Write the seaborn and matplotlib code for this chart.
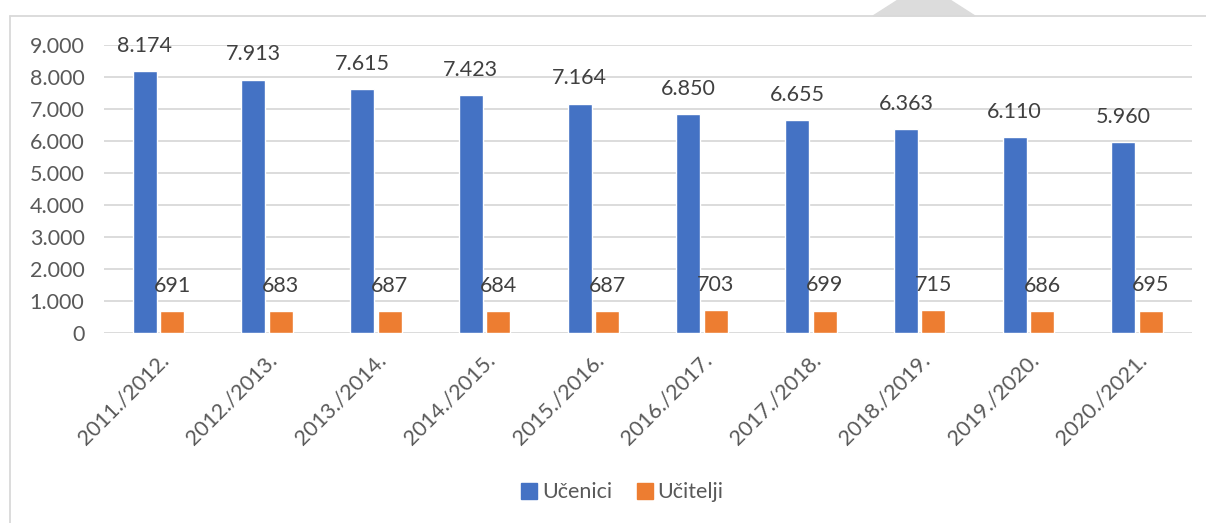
import pandas as pd
import seaborn as sns
import matplotlib.pyplot as plt
from matplotlib.patches import Polygon
from matplotlib.lines import Line2D
from matplotlib.ticker import FuncFormatter

# School years and counts
years = ['2011./2012.', '2012./2013.', '2013./2014.', '2014./2015.', '2015./2016.',
         '2016./2017.', '2017./2018.', '2018./2019.', '2019./2020.', '2020./2021.']
ucenici = [8174, 7913, 7615, 7423, 7164, 6850, 6655, 6363, 6110, 5960]
ucitelji = [691, 683, 687, 684, 687, 703, 699, 715, 686, 695]
series = ['Učenici', 'Učitelji']
colors = ['#4472C4', '#ED7D31']

df = pd.DataFrame({'year': years * 2,
                   'value': ucenici + ucitelji,
                   'series': [series[0]] * len(years) + [series[1]] * len(years)})

sns.set_theme(style='white')
plt.rcParams['font.family'] = ['Lato', 'DejaVu Sans']
txt = '#595959'
fs = 15.5


def dots(v, pos=None):
    return f'{int(v):,}'.replace(',', '.')


fig = plt.figure(figsize=(12.06, 5.23), dpi=100)
ax = fig.add_axes([0.0862, 0.3633, 0.9018, 0.5507])

sns.barplot(data=df, x='year', y='value', hue='series', palette=colors,
            width=0.505, gap=0.13, saturation=1, ax=ax, legend=False)

ax.set_ylim(0, 9000)
ax.set_yticks(range(0, 9001, 1000))
ax.yaxis.set_major_formatter(FuncFormatter(dots))
ax.grid(axis='y', color='#d9d9d9', lw=1.3)
ax.set_axisbelow(True)
for s in ax.spines.values():
    s.set_visible(False)
ax.set_xlabel('')
ax.set_ylabel('')
ax.tick_params(axis='both', length=0, labelsize=fs, colors=txt)
ax.tick_params(axis='x', pad=12)
ax.tick_params(axis='y', pad=14)
for lab in ax.get_xticklabels():
    lab.set_rotation(45)
    lab.set_ha('right')
    lab.set_rotation_mode('anchor')

for cont in ax.containers:
    for bar in cont:
        h = bar.get_height()
        ax.annotate(dots(h), (bar.get_x() + bar.get_width() / 2, h),
                    xytext=(0, 11), textcoords='offset points',
                    ha='center', va='bottom', fontsize=fs, color='#404040')

handles = [Line2D([], [], marker='s', ls='', color=c, markersize=11) for c in colors]
fig.legend(handles, series, loc='center', bbox_to_anchor=(0.515, 0.059), ncol=2,
           frameon=False, fontsize=fs, labelcolor=txt, handletextpad=0.1,
           columnspacing=1.0, handlelength=1.0)

# outer frame (top and left edges visible) and the grey tab at the top
fig.add_artist(Line2D([10 / 1206, 10 / 1206], [0, 1 - 16 / 523], color='#d9d9d9', lw=1.3))
fig.add_artist(Line2D([10 / 1206, 1], [1 - 16 / 523, 1 - 16 / 523], color='#d9d9d9', lw=1.3))
fig.add_artist(Polygon([[873 / 1206, 1 - 16 / 523], [975 / 1206, 1 - 16 / 523],
                        [950 / 1206, 1], [898 / 1206, 1]],
                       closed=True, color='#dcdcdc', transform=fig.transFigure))

fig.savefig('out.png', dpi=100)
